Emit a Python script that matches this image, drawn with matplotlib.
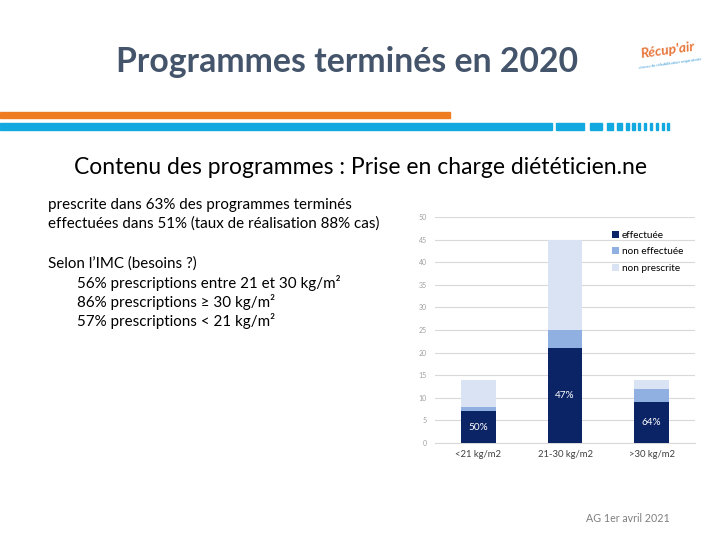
import matplotlib
matplotlib.use('Agg')
import matplotlib.pyplot as plt
import numpy as np

# data
categories = ['<21 kg/m2', '21-30 kg/m2', '>30 kg/m2']
effectuee = [7, 21, 9]
non_effectuee = [1, 4, 3]
non_prescrite = [6, 20, 2]
pct_labels = ['50%', '47%', '64%']
y_ticks = [0, 5, 10, 15, 20, 25, 30, 35, 40, 45, 50]

col_eff = '#0b2466'
col_noneff = '#8fb0e0'
col_nonpres = '#d9e3f3'

plt.rcParams['font.family'] = ['Lato', 'DejaVu Sans']

fig = plt.figure(figsize=(7.2, 5.4), dpi=100)
W, H = 720.0, 540.0

def fx(px):
    return px / W

def fy(py):
    return 1 - py / H

# title
fig.text(fx(347), fy(62), 'Programmes terminés en 2020', fontsize=24.3,
         fontweight='bold', color='#44546a', ha='center', va='center')

# decorative stripes
fig.patches.append(plt.Rectangle((0, fy(118)), fx(450), 6 / H,
                                 transform=fig.transFigure, color='#ee7d22'))
fig.patches.append(plt.Rectangle((0, fy(130)), fx(552), 7 / H,
                                 transform=fig.transFigure, color='#12a8e0'))
for x0, x1 in [(556, 584), (590, 602), (607, 613), (617, 622), (626, 629),
               (632, 635), (638, 640), (644, 646), (650, 652), (656, 658),
               (662, 664), (667, 669)]:
    fig.patches.append(plt.Rectangle((fx(x0), fy(130)), fx(x1 - x0), 7 / H,
                                     transform=fig.transFigure, color='#12a8e0'))

# logo (approx)
fig.text(fx(668), fy(50), "Récup'air", fontsize=10, fontweight='bold',
         style='italic', color='#e8763a', ha='center', va='center', rotation=8)
fig.text(fx(670), fy(64), 'réseau de réhabilitation respiratoire', fontsize=3,
         color='#3a9bd5', ha='center', va='center', rotation=8)

# subtitle
fig.text(fx(361), fy(168), 'Contenu des programmes : Prise en charge diététicien.ne',
         fontsize=16.5, color='black', ha='center', va='center')

# body text
body = [
    (48, 205, 'prescrite dans 63% des programmes terminés'),
    (48, 224, 'effectuées dans 51% (taux de réalisation 88% cas)'),
    (48, 264, 'Selon l\u2019IMC (besoins ?)'),
    (77, 283, '56% prescriptions entre 21 et 30 kg/m²'),
    (77, 302, '86% prescriptions \u2265 30 kg/m²'),
    (77, 321, '57% prescriptions < 21 kg/m²'),
]
for x, y, s in body:
    fig.text(fx(x), fy(y), s, fontsize=10.9, color='black', ha='left', va='center')

# footer
fig.text(fx(628), fy(519), 'AG 1er avril 2021', fontsize=7.7, color='#7f7f7f',
         ha='center', va='center')

# chart
ax = fig.add_axes([fx(435), fy(443), fx(695) - fx(435), fy(217) - fy(443)])
x = np.arange(len(categories))
bw = 0.4
eff = np.array(effectuee)
neff = np.array(non_effectuee)
npres = np.array(non_prescrite)
ax.bar(x, eff, bw, color=col_eff, label='effectuée', zorder=3)
ax.bar(x, neff, bw, bottom=eff, color=col_noneff, label='non effectuée', zorder=3)
ax.bar(x, npres, bw, bottom=eff + neff, color=col_nonpres, label='non prescrite',
       zorder=3)
for i, lab in enumerate(pct_labels):
    ax.text(x[i], eff[i] / 2, lab, color='white', fontsize=7.2,
            ha='center', va='center', zorder=4)

ax.set_xlim(-0.5, 2.5)
ax.set_ylim(0, 50)
ax.set_yticks(y_ticks)
ax.set_xticks(x)
ax.set_xticklabels(categories, fontsize=6.8, color='#404040')
ax.tick_params(axis='y', labelsize=5, colors='#a0a0a0', length=0, pad=6)
ax.tick_params(axis='x', length=0, pad=5)
ax.grid(axis='y', color='#d9d9d9', linewidth=0.8, zorder=0)
for s in ['top', 'right', 'left']:
    ax.spines[s].set_visible(False)
ax.spines['bottom'].set_color('#d9d9d9')

ax.legend(loc='upper right', bbox_to_anchor=(0.99, 0.98), fontsize=7.2,
          frameon=False, handlelength=0.7, handleheight=0.7, handletextpad=0.3,
          labelspacing=0.75)

fig.savefig('out.png', dpi=100)
